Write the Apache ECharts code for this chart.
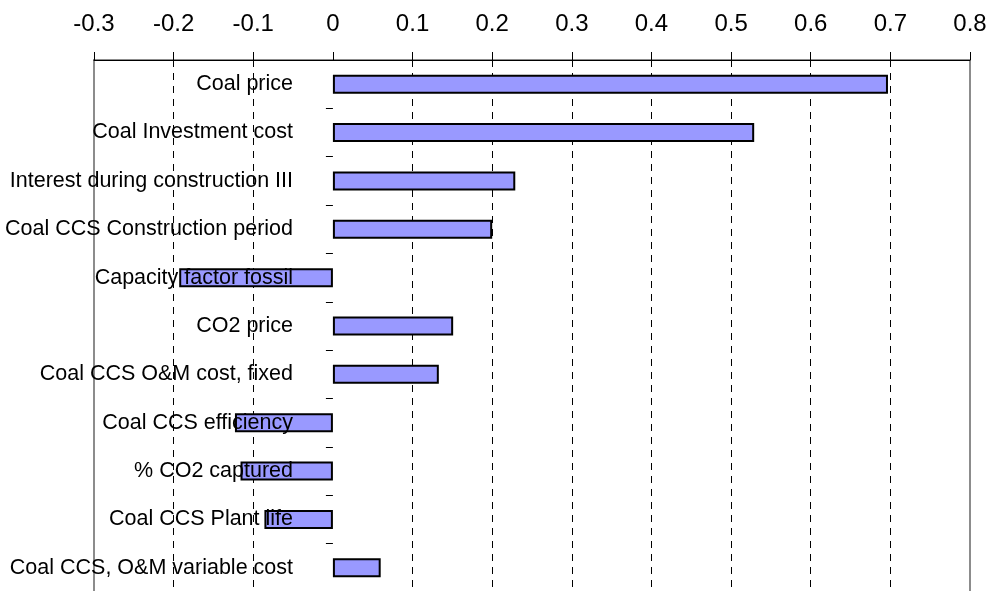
<!DOCTYPE html>
<html>
<head>
<meta charset="utf-8">
<style>
  html, body { margin: 0; padding: 0; background: #fff; }
  #chart { width: 992px; height: 591px; }
</style>
<script src="https://cdn.jsdelivr.net/npm/echarts@6/dist/echarts.min.js"></script>
</head>
<body>
<div id="chart"></div>
<script>
// Sensitivity drivers, listed top to bottom
const categories = [
  'Coal price',
  'Coal Investment cost',
  'Interest during construction III',
  'Coal CCS Construction period',
  'Capacity factor fossil',
  'CO2 price',
  'Coal CCS O&M cost, fixed',
  'Coal CCS efficiency',
  '% CO2 captured',
  'Coal CCS Plant life',
  'Coal CCS, O&M variable cost'
];

// Effect of each driver
const values = [0.697, 0.529, 0.229, 0.200, -0.193, 0.151, 0.133, -0.123, -0.116, -0.086, 0.060];

// Value axis ticks
const tickValues = [-0.3, -0.2, -0.1, 0, 0.1, 0.2, 0.3, 0.4, 0.5, 0.6, 0.7, 0.8];

const FONT = '"Liberation Sans", Arial, sans-serif';

// Dashed gridlines at interior ticks; none at zero or at the plot edges
const gridColors = tickValues.map((v, i) =>
  (i === 0 || i === tickValues.length - 1 || v === 0) ? 'rgba(0,0,0,0)' : '#000'
);

const chart = echarts.init(document.getElementById('chart'), null, { renderer: 'canvas' });

chart.setOption({
  animation: false,
  backgroundColor: '#fff',
  grid: {
    left: 94,
    right: 22,
    top: 60,
    bottom: -1,
    outerBoundsMode: 'none',
    containLabel: false,
    show: true,
    borderColor: '#8c8c8c',
    borderWidth: 2,
    backgroundColor: 'transparent'
  },
  xAxis: {
    type: 'value',
    position: 'top',
    min: tickValues[0],
    max: tickValues[tickValues.length - 1],
    interval: 0.1,
    axisLine: { show: true, onZero: false, lineStyle: { color: '#000', width: 1 } },
    axisTick: { show: true, inside: false, length: 8, lineStyle: { color: '#000', width: 1 } },
    axisLabel: {
      show: true,
      margin: 24,
      color: '#000',
      fontSize: 24,
      fontFamily: FONT,
      formatter: v => String(Math.round(v * 10) / 10)
    },
    splitLine: {
      show: true,
      lineStyle: { color: gridColors, type: [7, 6], width: 1 }
    }
  },
  yAxis: {
    type: 'category',
    data: categories,
    inverse: true,
    z: 3,
    axisLine: { show: false, onZero: true },
    axisTick: { show: true, inside: false, length: 7, lineStyle: { color: '#000', width: 1 } },
    axisLabel: {
      show: true,
      // labels sit inside the plot, right-aligned a little left of the zero line
      margin: -199,
      align: 'right',
      color: '#000',
      fontSize: 21.5,
      fontFamily: FONT
    },
    splitLine: { show: false }
  },
  series: [{
    type: 'bar',
    data: values,
    barWidth: 19,
    z: 2,
    itemStyle: {
      color: '#9999ff',
      borderColor: '#000',
      borderWidth: 2
    }
  }]
});
</script>
</body>
</html>
